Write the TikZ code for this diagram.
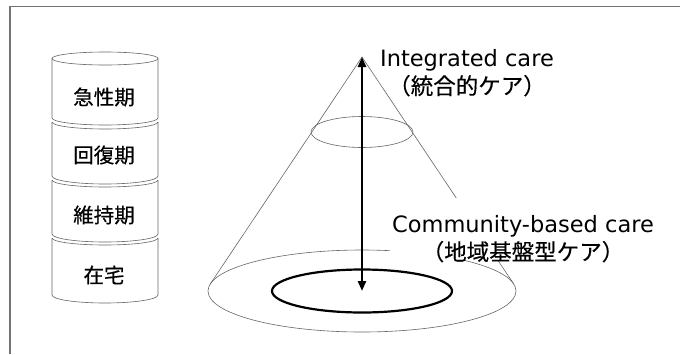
\documentclass[tikz,border=0pt]{standalone}
\usepackage{fontspec}
\setmainfont{DejaVu Sans}
\newfontfamily\jp[FakeBold=0.4]{Noto Sans CJK JP}
\usetikzlibrary{arrows.meta}
\tikzset{myhead/.tip={Triangle[length=10pt,width=8pt]}}
\begin{document}
\begin{tikzpicture}[x=1pt,y=-1pt,
  frame/.style={draw=black!55,line width=1.6pt},
  thinline/.style={draw=black!60,line width=0.6pt},
  seglabel/.style={font=\jp\fontsize{20.5}{24}\selectfont,inner sep=0pt},
  carelabel/.style={align=center,inner sep=0pt,font=\fontsize{22.5}{27.5}\selectfont},
  bigarrow/.style={black,line width=2.8pt,{myhead}-{myhead}}]
\useasboundingbox (0,0) rectangle (680,354);
\fill[white] (0,0) rectangle (680,354);
\draw[frame] (10,354) -- (10,6.5) -- (680,6.5);

% cylinder stack
\draw[thinline] (105,58.5) ellipse [x radius=53,y radius=6.5];
\draw[thinline] (52,58.5) -- (52,118) arc[start angle=180,end angle=0,x radius=53,y radius=7] -- (158,58.5);
\foreach \t/\b in {122/176,180/234,238/295}{
  \draw[thinline] (52,\t) arc[start angle=180,end angle=0,x radius=53,y radius=7];
  \draw[thinline] (52,\t) -- (52,\b) arc[start angle=180,end angle=0,x radius=53,y radius=8] -- (158,\t);
}
\node[seglabel] (s1) at (104,97) {急性期};
\node[seglabel] (s2) at (104,155) {回復期};
\node[seglabel] (s3) at (104,215) {維持期};
\node[seglabel] (s4) at (104,275) {在宅};

% cone
\coordinate (apex) at (362,57);
\coordinate (base) at (362,291);
\coordinate (tl) at (210.4,283.8);
\coordinate (tr) at (513.6,283.8);
\draw[thinline] (tl) -- (apex) -- (tr);
\draw[thinline] (362,132) ellipse [x radius=51,y radius=15.5];
\draw[thinline] (base) ellipse [x radius=154,y radius=41];
\draw[black,line width=2.2pt] (base) ellipse [x radius=90,y radius=21.5];
\draw[bigarrow] (base) -- (apex);

% labels
\node[carelabel] (ic) at (467,73) {Integrated care\\{\jp （統合的ケア）}};
\fill[white] (390,198) rectangle (655,260);
\node[carelabel] (cb) at (523,239) {Community-based care\\{\jp （地域基盤型ケア）}};
\end{tikzpicture}
\end{document}
